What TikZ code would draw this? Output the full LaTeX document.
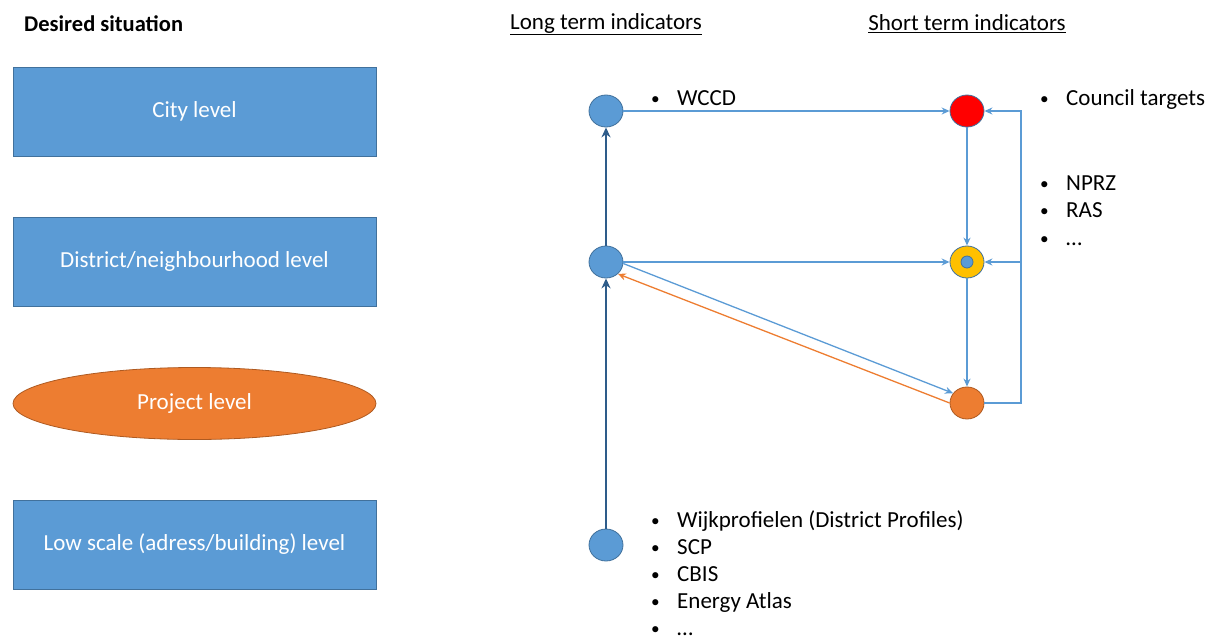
\documentclass[tikz,border=0pt]{standalone}
\usepackage{fontspec}
\setmainfont{Carlito}
\usetikzlibrary{shapes.geometric,arrows.meta}
\definecolor{boxblue}{HTML}{5B9BD5}
\definecolor{boxedge}{HTML}{41719C}
\definecolor{dkblue}{HTML}{2E5C8A}
\definecolor{myorange}{HTML}{ED7D31}
\definecolor{edgeorange}{HTML}{AE5A21}
\definecolor{myyellow}{HTML}{FFC000}
\tikzset{
  levelbox/.style={draw=boxedge, line width=0.8pt, fill=boxblue, minimum width=363pt, minimum height=89pt, inner sep=0pt, text=white, font=\fontsize{23}{27}\selectfont},
  levelell/.style={ellipse, draw=edgeorange, line width=0.8pt, fill=myorange, minimum width=363pt, minimum height=72pt, inner sep=0pt, text=white, font=\fontsize{23}{27}\selectfont},
  dot/.style={ellipse, draw=boxedge, line width=0.8pt, minimum width=34pt, minimum height=32pt, inner sep=0pt},
  thin/.style={draw=boxblue, line width=1.3pt, -{Stealth[length=8pt,width=7pt]}},
  thick/.style={draw=dkblue, line width=2.6pt, -{Stealth[length=10pt,width=9pt]}},
  lbl/.style={font=\fontsize{23}{27}\selectfont, anchor=base west, inner sep=0pt},
  hdr/.style={font=\fontsize{23}{27}\selectfont, inner sep=0pt}
}
\newcommand{\bl}{\makebox[27pt][l]{\hspace{1pt}\raisebox{1pt}{\scalebox{0.75}{\textbullet}}}}
\begin{document}
\begin{tikzpicture}[x=1pt,y=-1pt]
\useasboundingbox (0,0) rectangle (1215,635);
% headings
\node[hdr, anchor=west, font=\bfseries\fontsize{22.5}{27}\selectfont] (title) at (24,24) {Desired situation};
\node[hdr] (lth) at (606,24) {\underline{Long term indicators}};
\node[hdr] (sth) at (967,24) {\underline{Short term indicators}};
% level boxes
\node[levelbox] (city) at (194.5,111.5) {City level};
\node[levelbox] (dist) at (194.5,261.5) {District/neighbourhood level};
\node[levelell] (proj) at (194.5,403.5) {Project level};
\node[levelbox] (low) at (194.5,544.5) {Low scale (adress/building) level};
% circles
\node[dot, fill=boxblue] (l1) at (606,111) {};
\node[dot, fill=boxblue] (l2) at (606,262) {};
\node[dot, fill=boxblue] (l4) at (606,545) {};
\node[dot, fill=red] (r1) at (967,111) {};
\node[dot, fill=myyellow] (r2) at (967,262) {};
\node[dot, fill=boxblue, minimum width=12pt, minimum height=12pt] (r2c) at (967,262) {};
\node[dot, fill=myorange, draw=edgeorange] (r3) at (967,403) {};
% thick arrows
\draw[thick] (l4.north) -- (l2.south);
\draw[thick] (l2.north) -- (l1.south);
% thin arrows
\draw[thin] (l1.east) -- (r1.west);
\draw[thin] (l2.east) -- (r2.west);
\draw[thin] (l2.-5) -- (r3.145);
\draw[draw=myorange, line width=1.3pt, -{Stealth[length=8pt,width=7pt]}] (r3.west) -- (l2.-45);
\draw[thin] (r1.south) -- (r2.north);
\draw[thin] (r2.south) -- (r3.north);
\coordinate (fb1) at (1021,403);
\coordinate (fb2) at (1021,262);
\draw[thin] (r3.east) -- (fb1) |- (r1.east);
\draw[thin] (fb2) -- (r2.east);
% labels
\node[lbl] (wccd) at (650,105) {\bl WCCD};
\node[lbl] (ct) at (1039,105) {\bl Council targets};
\node[lbl] (nprz) at (1039,190) {\bl NPRZ};
\node[lbl] (ras) at (1039,217) {\bl RAS};
\node[lbl] (dots1) at (1039,245) {\bl …};
\node[lbl] (wp) at (650,527) {\bl Wijkprofielen (District Profiles)};
\node[lbl] (scp) at (650,554) {\bl SCP};
\node[lbl] (cbis) at (650,581) {\bl CBIS};
\node[lbl] (ea) at (650,608) {\bl Energy Atlas};
\node[lbl] (dots2) at (650,635) {\bl …};
\end{tikzpicture}
\end{document}
